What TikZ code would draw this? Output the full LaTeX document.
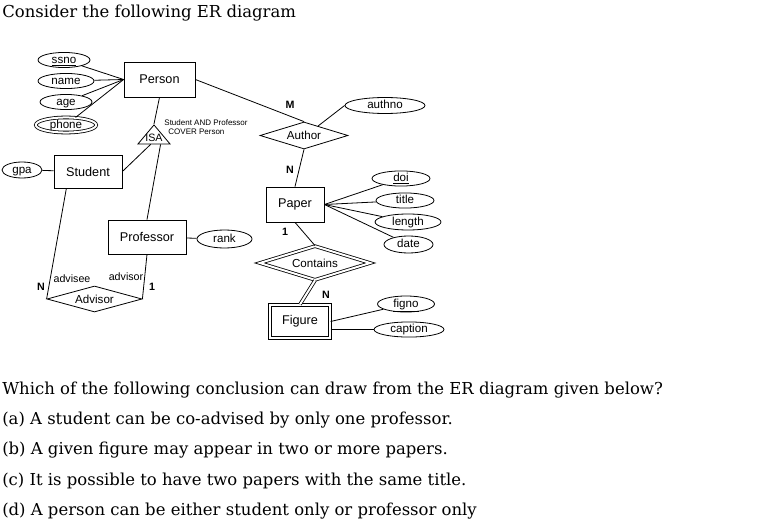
\documentclass[tikz,border=0pt]{standalone}
\usepackage{fontspec}
\setmainfont{DejaVu Serif}
\newfontfamily\erfont{Liberation Sans}
\usepackage{tikz}
\usetikzlibrary{shapes,positioning}
\tikzstyle{entity} = [rectangle, draw, line width=0.6pt, text centered, font=\erfont\fontsize{9.5}{11}\selectfont, inner sep=0pt]
\tikzstyle{attrib} = [ellipse, draw, line width=0.6pt, text centered, text height=6.3pt, text depth=1.7pt, font=\erfont\fontsize{8.7}{10}\selectfont, inner sep=0pt]
\tikzstyle{relation} = [diamond, draw, line width=0.6pt, text centered, font=\erfont\fontsize{8.7}{10}\selectfont, inner sep=0pt]
\tikzstyle{card} = [draw=none, fill=none, inner sep=0pt, font=\erfont\bfseries\fontsize{8}{9}\selectfont]
\tikzstyle{role} = [draw=none, fill=none, inner sep=0pt, font=\erfont\fontsize{8}{9}\selectfont]
\tikzstyle{textonly} = [draw=none, fill=none, inner sep=0pt, anchor=base west, font=\fontsize{12.35}{14}\selectfont]
\tikzstyle{tedge}  = [draw, line width=0.6pt]
\tikzstyle{weak} = [double, double distance=1.5pt]

\begin{document}
\begin{tikzpicture}[x=0.75pt, y=-0.75pt]
\useasboundingbox (0,0) rectangle (774,531);

% question text =============================
\node[textonly] (intro) at (2,18) {Consider the following ER diagram};

% entities =============================
\node[entity, minimum width=53.25pt, minimum height=26.25pt] (person) at (159.5,79.5) {Person};
\node[entity, minimum width=51pt, minimum height=24.75pt] (student) at (88,171.5) {Student};
\node[entity, minimum width=58.5pt, minimum height=25.5pt] (professor) at (147,237) {Professor};
\node[entity, minimum width=43.5pt, minimum height=26.25pt] (paper) at (295,204.5) {Paper};
\node[entity, weak, minimum width=45.3pt, minimum height=25pt] (figure) at (300,321.5) {Figure};

% attributes =============================
\node[attrib, minimum width=39pt, minimum height=10.5pt] (ssno) at (64,60) {\underline{ssno}};
\node[attrib, minimum width=42pt, minimum height=10.5pt] (name) at (66,81) {name};
\node[attrib, minimum width=39pt, minimum height=10.5pt] (age) at (66,102) {age};
\node[attrib, weak, minimum width=45.3pt, minimum height=10.8pt] (phone) at (66,125) {phone};
\node[attrib, minimum width=30pt, minimum height=12pt] (gpa) at (22,170) {gpa};
\node[attrib, minimum width=41.25pt, minimum height=13.5pt] (rank) at (224.5,239) {rank};
\node[attrib, minimum width=60pt, minimum height=12pt] (authno) at (385,105.5) {authno};
\node[attrib, minimum width=43.5pt, minimum height=10.5pt] (doi) at (401,178.5) {\underline{doi}};
\node[attrib, minimum width=43.5pt, minimum height=11.25pt] (title) at (405,200.5) {title};
\node[attrib, minimum width=49.5pt, minimum height=12pt] (length) at (408,222) {length};
\node[attrib, minimum width=36.75pt, minimum height=12.75pt] (date) at (408.5,244.5) {date};
\node[attrib, minimum width=42.75pt, minimum height=12pt] (figno) at (406,304) {\underline{figno}};
\node[attrib, minimum width=52.5pt, minimum height=11.25pt] (caption) at (409,329.5) {caption};

% relationships =============================
\node[relation, aspect=3.26, minimum width=66pt, minimum height=20.25pt] (author) at (304,135.5) {Author};
\node[relation, aspect=3.65, minimum width=71.25pt, minimum height=19.5pt] (advisor) at (94.5,299) {Advisor};
\node[relation, weak, aspect=3.2, minimum width=83pt, minimum height=25.5pt] (contains) at (315,263) {Contains};
\node[isosceles triangle, draw, line width=0.6pt, shape border rotate=90, isosceles triangle stretches, minimum width=24pt, minimum height=14.25pt, inner sep=0pt] (isa) at (154,136.5) {};
\node[role] (isatext) at (154,138) {ISA};
\node[role, align=left, font=\erfont\fontsize{6}{6.8}\selectfont] (cover) at (206,127) {Student AND Professor\\\hspace*{3pt}COVER Person};

% cardinalities and roles =============================
\node[card] (m1) at (290,105) {M};
\node[card] (n1) at (290,170) {N};
\node[card] (one1) at (285,232) {1};
\node[card] (n2) at (326,295) {N};
\node[card] (n3) at (41,287) {N};
\node[card] (one2) at (152,287) {1};
\node[role] (advisee) at (72,279) {advisee};
\node[role] (advisorrole) at (126,277) {advisor};

% edges =============================
\path[tedge] (ssno) -- (person.west);
\path[tedge] (name) -- (person.west);
\path[tedge] (age) -- (person.west);
\path[tedge] (phone) -- (person.west);
\path[tedge] (gpa) -- (student);
\path[tedge] (person.south) -- (isa.apex);
\path[tedge] (student.east) -- (isa.247);
\path[tedge] (isa.310) -- (professor.north);
\path[tedge] (professor) -- (rank);
\path[tedge] (student.218) -- (advisor.west);
\path[tedge] (professor.south) -- (advisor.east);
\path[tedge] (person.east) -- (author.north);
\path[tedge] (author.34) -- (authno.west);
\path[tedge] (author.south) -- (paper.north);
\path[tedge] (paper.east) -- (doi);
\path[tedge] (paper.east) -- (title);
\path[tedge] (paper.east) -- (length);
\path[tedge] (paper.east) -- (date);
\path[tedge] (paper.south) -- (contains.north);
\path[tedge, weak] (contains.south) -- (figure.north);
\path[tedge] (figure.east) -- (figno);
\path[tedge] (figure.east |- caption.west) -- (caption.west);

% question text =============================
\node[textonly] (question) at (2,394) {Which of the following conclusion can draw from the ER diagram given below?};
\node[textonly] (opta) at (2,424) {(a) A student can be co-advised by only one professor.};
\node[textonly] (optb) at (2,454) {(b) A given figure may appear in two or more papers.};
\node[textonly] (optc) at (2,485) {(c) It is possible to have two papers with the same title.};
\node[textonly] (optd) at (2,515) {(d) A person can be either student only or professor only};

\end{tikzpicture}
\end{document}
